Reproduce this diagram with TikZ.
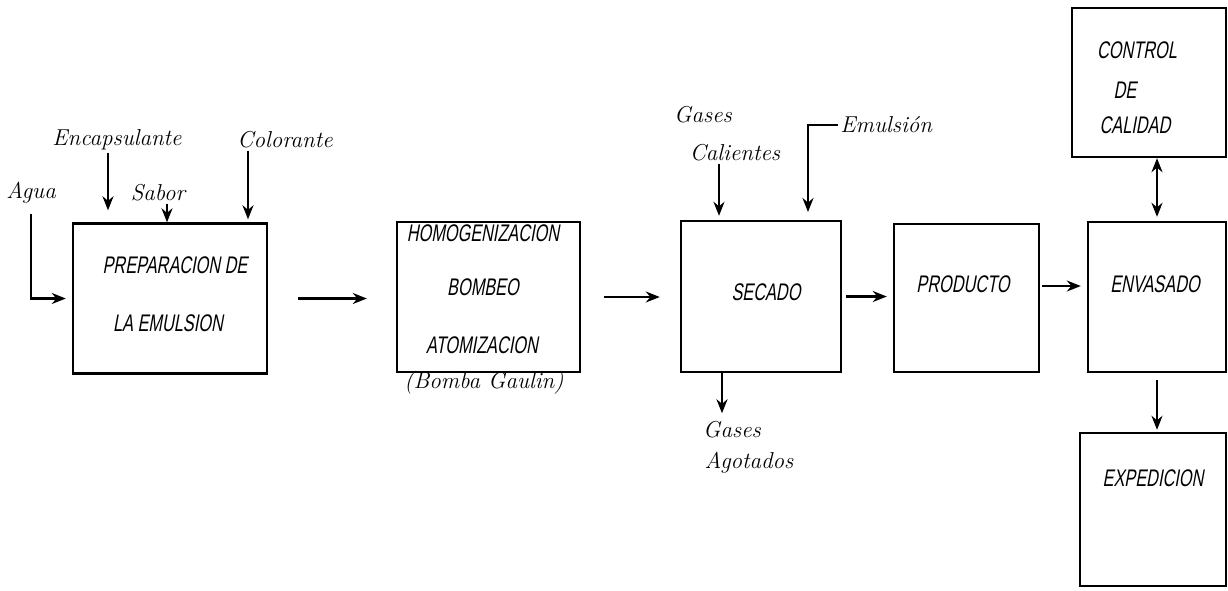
\documentclass[tikz,border=0pt]{standalone}
\usepackage{fontspec}
\newfontfamily\handcaps[FakeStretch=0.68,FakeSlant=0.18]{Liberation Sans}
\usetikzlibrary{arrows.meta}

\begin{document}
\begin{tikzpicture}[x=0.5pt, y=-0.5pt,
  box/.style={draw, line width=1.2pt, inner sep=0pt},
  caps/.style={font=\handcaps\fontsize{12}{14}\selectfont, inner sep=1pt},
  lbl/.style={font=\fontsize{11.5}{13}\selectfont\itshape, inner sep=1pt},
  flow/.style={line width=1.2pt, -{Stealth[length=7pt, width=5.5pt]}}]

\useasboundingbox (0,0) rectangle (1228,590);

% Etapas
\node[box, minimum width=97pt, minimum height=75pt] (prep) at (170,298.5) {};
\node[box, minimum width=91.5pt, minimum height=75pt] (homog) at (488.5,297) {};
\node[box, minimum width=80pt, minimum height=75.5pt] (secado) at (761,296.5) {};
\node[box, minimum width=72.5pt, minimum height=74pt] (producto) at (966.5,298) {};
\node[box, minimum width=69pt, minimum height=75pt] (envasado) at (1157,297) {};
\node[box, minimum width=77pt, minimum height=74.5pt] (control) at (1149,82.5) {};
\node[box, minimum width=73pt, minimum height=76.5pt] (exped) at (1153,509.5) {};

% Textos de las etapas
\node[caps] (prep-a) at (175,265) {PREPARACION DE};
\node[caps] (prep-b) at (168,323) {LA EMULSION};
\node[caps] (homog-a) at (483,233) {HOMOGENIZACION};
\node[caps] (homog-b) at (483,287) {BOMBEO};
\node[caps] (homog-c) at (482,345) {ATOMIZACION};
\node[lbl] (gaulin) at (484,383) {(Bomba Gaulin)};
\node[caps] (secado-t) at (766,292) {SECADO};
\node[caps] (producto-t) at (963,284) {PRODUCTO};
\node[caps] (envasado-t) at (1155,284) {ENVASADO};
\node[caps] (control-a) at (1137,50) {CONTROL};
\node[caps] (control-b) at (1125,90) {DE};
\node[caps] (control-c) at (1135,125) {CALIDAD};
\node[caps] (exped-t) at (1153,478) {EXPEDICION};

% Entradas y salidas
\node[lbl] (agua) at (31,193) {Agua};
\node[lbl] (encap) at (117,140) {Encapsulante};
\node[lbl] (sabor) at (158,193) {Sabor};
\node[lbl] (color) at (285,140) {Colorante};
\node[lbl] (gcal-a) at (703,115) {Gases};
\node[lbl] (gcal-b) at (735,153) {Calientes};
\node[lbl, anchor=west] (emul) at (838,125) {Emulsión};
\node[lbl] (gago-a) at (732,430) {Gases};
\node[lbl] (gago-b) at (749,463) {Agotados};
\coordinate (emul-in) at (808,221);

% Flechas
\draw[flow, shorten <=4pt, shorten >=3pt] (agua.south) |- (prep.west);
\draw[flow, shorten >=6pt] ([xshift=-4.5pt]encap.south) -- ([xshift=-4.5pt]encap.south |- prep.north);
\draw[flow] ([xshift=4.5pt]sabor.south) -- ([xshift=4.5pt]sabor.south |- prep.north);
\draw[flow, shorten >=1.5pt] ([xshift=-18.5pt]color.south) -- ([xshift=-18.5pt]color.south |- prep.north);
\draw[flow, shorten >=2pt] ([xshift=-8pt]gcal-b.south) -- ([xshift=-8pt]gcal-b.south |- secado.north);
\draw[flow, shorten >=4.5pt] (emul.west) -| (emul-in);
\draw[flow, shorten >=3pt] ([xshift=-19.5pt]secado.south) -- ([xshift=-19.5pt]secado.south |- gago-a.north);

\draw[flow, shorten <=15pt, shorten >=14.5pt] (prep.east) -- (prep.east -| homog.west);
\draw[flow, shorten <=11.5pt, shorten >=10pt] (homog.east) -- (homog.east -| secado.west);
\draw[flow, shorten <=2pt, shorten >=3pt] (secado.east) -- (secado.east -| producto.west);
\draw[flow, shorten <=1pt, shorten >=3pt] ([yshift=6pt]producto.east) -- ([yshift=6pt]producto.east -| envasado.west);
\draw[line width=1.2pt, {Stealth[length=7pt, width=5.5pt]}-{Stealth[length=7pt, width=5.5pt]}, shorten >=2pt] (envasado.north |- control.south) -- (envasado.north);
\draw[flow, shorten <=3.5pt, shorten >=1pt] (envasado.south) -- (envasado.south |- exped.north);

\end{tikzpicture}
\end{document}
